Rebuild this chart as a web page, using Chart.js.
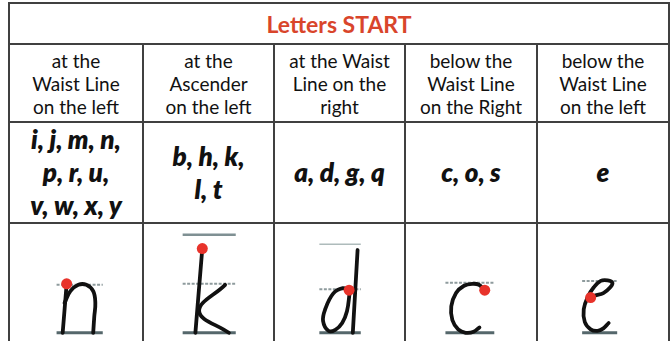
<!DOCTYPE html>
<html>
<head>
<meta charset="utf-8">
<script src="https://cdn.jsdelivr.net/npm/chart.js@4.4.1/dist/chart.umd.min.js"></script>
<style>
  body { margin: 0; background: #fff; width: 671px; height: 341px; overflow: hidden; position: relative;
         font-family: Lato, "Open Sans", sans-serif; color: #111; }
  table { position: absolute; left: 8px; top: 2px; border-collapse: collapse; table-layout: fixed; width: 662px; }
  td { border: 2px solid #404040; text-align: center; padding: 0; vertical-align: middle; }
  .title td { height: 39px; color: #d9452b; font-weight: bold; font-size: 23px; }
  .head td { height: 76px; font-size: 19px; line-height: 23px; }
  .letters td { height: 99px; font-size: 26px; line-height: 33px; font-weight: 800; font-style: italic; }
  .pics td { height: 130px; }
  #wrap { position: absolute; left: 9px; top: 223px; width: 660px; height: 118px; }
</style>
</head>
<body>
<table id="tbl"></table>
<div id="wrap"><canvas id="myChart"></canvas></div>
<script>
// table text
const title = "Letters START";
const startHeads = [
  ["at the", "Waist Line", "on the left"],
  ["at the", "Ascender", "on the left"],
  ["at the Waist", "Line on the", "right"],
  ["below the", "Waist Line", "on the Right"],
  ["below the", "Waist Line", "on the left"],
];
const letterGroups = [
  ["i, j, m, n,", "p, r, u,", "v, w, x, y"],
  ["b, h, k,", "l, t"],
  ["a, d, g, q"],
  ["c, o, s"],
  ["e"],
];
const colWidths = [134, 131, 131, 132, 132];

// letter strokes: [x from column centre, y] in guide units (baseline 0, waist 1)
const nStem = [[-0.24, 1.0], [-0.315, 0]];
const nArch = [[-0.28, 0.61], [-0.17, 0.85], [-0.02, 0.98], [0.13, 0.98], [0.26, 0.85], [0.3, 0.61], [0.28, 0.33], [0.26, 0]];
const kStem = [[-0.13, 1.72], [-0.26, 0]];
const kArm = [[0.3, 0.98], [-0.19, 0.44], [0.37, 0]];
const dStem = [[0.35, 1.69], [0.26, 0]];
const dBowl = [[0.19, 0.87], [0.07, 0.91], [-0.11, 0.8], [-0.26, 0.48], [-0.3, 0.24], [-0.2, 0.04],
  [-0.07, 0.06], [0.06, 0.2], [0.15, 0.44], [0.2, 0.81]];
const cCurve = [[0.28, 0.89], [0.19, 0.98], [0.07, 1.0], [-0.09, 0.96], [-0.24, 0.81], [-0.33, 0.54],
  [-0.31, 0.26], [-0.2, 0.07], [-0.06, 0], [0.09, 0.02], [0.2, 0.11]];
const eCurve = [[-0.15, 0.72], [-0.07, 0.76], [0.09, 0.81], [0.22, 0.93], [0.26, 1.02], [0.17, 1.07],
  [0.04, 1.06], [-0.09, 0.93], [-0.2, 0.74], [-0.28, 0.48], [-0.26, 0.22], [-0.15, 0.07],
  [-0.02, 0.04], [0.09, 0.09], [0.19, 0.2]];
const strokes = [[nStem, nArch], [kStem, kArm], [dStem, dBowl], [cCurve], [eCurve]];

// red start dots, one per column
const startDots = [[-0.24, 1.0], [-0.13, 1.72], [0.19, 0.87], [0.3, 0.87], [-0.15, 0.72]];

// guide lines per column
const guideSpan = [[-0.43, 0.44], [-0.5, 0.5], [-0.37, 0.41], [-0.44, 0.48], [-0.31, 0.35]];
const waistY = [0.98, 1.0, 0.89, 1.02, 1.06];
const topY = [null, 2.0, 1.81, null, null];

// build table
const tbl = document.getElementById("tbl");
let html = "<colgroup>" + colWidths.map((w) => `<col style="width:${w}px">`).join("") + "</colgroup>";
html += `<tr class="title"><td colspan="5">${title}</td></tr>`;
html += `<tr class="head">${startHeads.map((l) => `<td>${l.join("<br>")}</td>`).join("")}</tr>`;
html += `<tr class="letters">${letterGroups.map((l) => `<td>${l.join("<br>")}</td>`).join("")}</tr>`;
html += `<tr class="pics">${colWidths.map(() => "<td></td>").join("")}</tr>`;
tbl.innerHTML = html;

// chart for the letter pictures
const unitsPerCol = 132 / 54;
const pt = (col, p) => ({ x: col + 0.5 + p[0] / unitsPerCol, y: p[1] });

const datasets = [];
datasets.push({
  data: startDots.map((p, i) => pt(i, p)),
  showLine: false,
  pointRadius: 5.5,
  pointBackgroundColor: "#e8332b",
  pointBorderWidth: 0,
  order: 0,
});
strokes.forEach((list, i) => {
  list.forEach((s) => {
    datasets.push({
      data: s.map((p) => pt(i, p)),
      showLine: true,
      borderColor: "#111",
      borderWidth: 3.8,
      tension: 0.4,
      pointRadius: 0,
      borderCapStyle: "round",
      order: 1,
    });
  });
});
guideSpan.forEach((span, i) => {
  datasets.push({
    data: [pt(i, [span[0], 0]), pt(i, [span[1], 0])],
    showLine: true, borderColor: "#55676b", borderWidth: 3, pointRadius: 0, order: 2,
  });
  datasets.push({
    data: [pt(i, [span[0], waistY[i]]), pt(i, [span[1], waistY[i]])],
    showLine: true, borderColor: "#8e9b9d", borderWidth: 2, borderDash: [3, 1.5], pointRadius: 0, order: 2,
  });
  if (topY[i] !== null) {
    datasets.push({
      data: [pt(i, [span[0], topY[i]]), pt(i, [span[1], topY[i]])],
      showLine: true, borderColor: i === 1 ? "#7f9093" : "#aebbbb", borderWidth: i === 1 ? 2.5 : 1.5,
      pointRadius: 0, order: 2,
    });
  }
});

const ctx = document.getElementById("myChart").getContext("2d");
const myChart = new Chart(ctx, {
  type: "scatter",
  data: { datasets: datasets },
  options: {
    responsive: true,
    maintainAspectRatio: false,
    animation: false,
    layout: { padding: 0 },
    plugins: { legend: { display: false }, tooltip: { enabled: false } },
    scales: {
      x: { display: false, min: 0, max: 5 },
      y: { display: false, min: (338 - 341) / 54, max: (338 - 223) / 54 },
    },
  },
});
</script>
</body>
</html>
